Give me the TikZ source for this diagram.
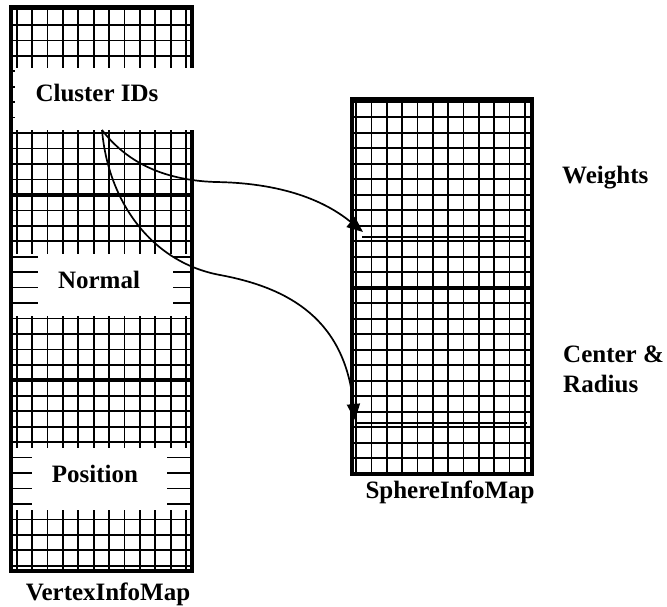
\documentclass[tikz,border=0pt]{standalone}
\usepackage{fontspec}
\setmainfont{Liberation Serif}
\usetikzlibrary{arrows.meta}
\begin{document}
\begin{tikzpicture}[x=1pt,y=-1pt,
    frame/.style={line width=4.2pt},
    gridline/.style={line width=1.7pt,black},
    sepline/.style={line width=1.9pt},
    lbl/.style={font=\fontsize{25}{30}\selectfont\bfseries,inner sep=0pt},
    conn/.style={line width=1.7pt,-{Triangle[length=16pt,width=13pt]}}]
  \useasboundingbox (0,0) rectangle (667,607);
  % VertexInfoMap
  \foreach \i in {0,...,11} \draw[gridline] (16.7+15.4*\i,7) -- (16.7+15.4*\i,571);
  \foreach \j in {0,...,36} \draw[gridline] (11,9.5+15.45*\j) -- (192,9.5+15.45*\j);
  \draw[frame] (11,7) rectangle (192,571);
  \draw[frame] (11,195) -- (192,195);
  \draw[frame] (11,380) -- (192,380);
  \fill[white] (15,68) rectangle (194.5,130);
  \fill[white] (15,254) rectangle (188,316);
  \fill[white] (15,448) rectangle (188,510);
  \foreach \j in {16,...,19,29,30,31,32} \draw[gridline] (15,9.5+15.45*\j) -- (188,9.5+15.45*\j);
  \fill[white] (38,254) rectangle (173,316);
  \fill[white] (32,448) rectangle (167,510);
  % SphereInfoMap
  \foreach \i in {0,...,11} \draw[gridline] (356+15.35*\i,99) -- (356+15.35*\i,474);
  \foreach \j in {0,...,24} \draw[gridline] (352,101.7+15.5*\j) -- (532,101.7+15.5*\j);
  \draw[frame] (352,99) rectangle (532,474);
  \draw[frame] (352,288) -- (532,288);
  \coordinate (Wl) at (362,237);
  \coordinate (Wr) at (525,237);
  \coordinate (Rl) at (355,423);
  \coordinate (Rr) at (527,423);
  \draw[sepline] (Wl) -- (Wr);
  \draw[sepline] (Rl) -- (Rr);
  % labels
  \node[lbl,anchor=base] (C) at (97,102) {Cluster IDs};
  \node[lbl,anchor=base] (N) at (99,288) {Normal};
  \node[lbl,anchor=base] (P) at (95,482) {Position};
  \node[lbl,anchor=base] (V) at (108,600) {VertexInfoMap};
  \node[lbl,anchor=base] (S) at (450,498) {SphereInfoMap};
  \node[lbl,anchor=base west] (Wt) at (562,183) {Weights};
  \node[lbl,anchor=base west] (Ce) at (563,362) {Center \&};
  \node[lbl,anchor=base west] (Ra) at (563,392) {Radius};
  % pointers
  \coordinate (src) at (102,130);
  \coordinate (Wtip) at (363,232);
  \coordinate (Rtip) at (355,420);
  \draw[conn] (src) .. controls (125,160) and (160,180) .. (215,182)
    .. controls (290,183) and (330,205) .. (Wtip);
  \draw[conn] (src) .. controls (108,200) and (150,262) .. (220,275)
    .. controls (290,288) and (345,320) .. (Rtip);
\end{tikzpicture}
\end{document}
